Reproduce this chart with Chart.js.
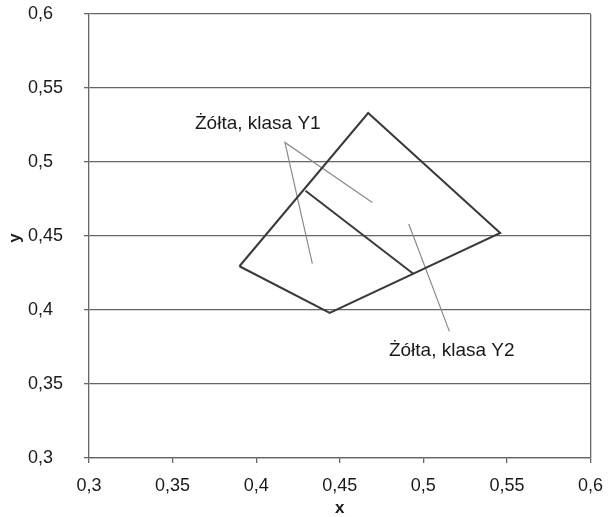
<!DOCTYPE html>
<html>
<head>
<meta charset="utf-8">
<script src="https://cdn.jsdelivr.net/npm/chart.js@4"></script>
<style>
  html, body { margin: 0; padding: 0; background: #fff; }
</style>
</head>
<body>
<canvas id="chart" width="615" height="517"></canvas>
<script>
// axis tick labels (Polish decimal comma)
const xTickLabels = ['0,3', '0,35', '0,4', '0,45', '0,5', '0,55', '0,6'];
const yTickLabels = ['0,3', '0,35', '0,4', '0,45', '0,5', '0,55', '0,6'];

// outline of the yellow region (closed quadrilateral)
const outlineX = [0.390, 0.444, 0.546, 0.467, 0.390];
const outlineY = [0.4295, 0.398, 0.452, 0.533, 0.4295];

// line splitting the region into Y1 / Y2
const dividerX = [0.4295, 0.494];
const dividerY = [0.4805, 0.4244];

// leader lines from the labels
const leaderY1X = [0.4336, 0.4172, 0.4695];
const leaderY1Y = [0.4313, 0.5131, 0.4726];
const leaderY2X = [0.4913, 0.5156];
const leaderY2Y = [0.458, 0.3855];

// class labels and where they sit (data units)
const classLabels = ['Żółta, klasa Y1', 'Żółta, klasa Y2'];
const classLabelX = [0.401, 0.517];
const classLabelY = [0.5257, 0.3727];

const toPoints = (xs, ys) => xs.map((x, i) => ({ x: x, y: ys[i] }));

Chart.defaults.font.family = 'Arial, "Liberation Sans", sans-serif';
Chart.defaults.color = '#1a1a1a';

const gridColor = '#666';

const lineSet = (xs, ys, color, width) => ({
  data: toPoints(xs, ys),
  showLine: true,
  borderColor: color,
  borderWidth: width,
  pointRadius: 0,
  fill: false,
  tension: 0
});

const textPlugin = {
  id: 'texts',
  afterDatasetsDraw(chart) {
    const { ctx, scales: { x, y }, chartArea } = chart;
    ctx.save();
    ctx.fillStyle = '#1a1a1a';
    ctx.font = '19px Arial, "Liberation Sans", sans-serif';
    ctx.textAlign = 'center';
    ctx.textBaseline = 'middle';
    classLabels.forEach((t, i) => {
      ctx.fillText(t, x.getPixelForValue(classLabelX[i]), y.getPixelForValue(classLabelY[i]));
    });
    // y axis title
    ctx.font = 'bold 17px Arial, "Liberation Sans", sans-serif';
    ctx.translate(15, (chartArea.top + chartArea.bottom) / 2 + 2);
    ctx.rotate(-Math.PI / 2);
    ctx.fillText('y', 0, 0);
    ctx.restore();
  }
};

new Chart(document.getElementById('chart'), {
  type: 'scatter',
  data: {
    datasets: [
      lineSet(outlineX, outlineY, '#3a3a3a', 2),
      lineSet(dividerX, dividerY, '#3a3a3a', 2),
      lineSet(leaderY1X, leaderY1Y, '#8a8a8a', 1.2),
      lineSet(leaderY2X, leaderY2Y, '#8a8a8a', 1.2)
    ]
  },
  options: {
    responsive: false,
    animation: false,
    layout: { padding: { left: 28, right: 14, top: 12, bottom: 0 } },
    plugins: {
      legend: { display: false },
      tooltip: { enabled: false }
    },
    scales: {
      x: {
        type: 'linear',
        min: 0.3,
        max: 0.6,
        afterFit: s => { s.height = 59; },
        border: { color: gridColor, width: 1.3 },
        grid: {
          color: c => (c.tick && Math.abs(c.tick.value - 0.6) < 1e-6) ? gridColor : 'rgba(0,0,0,0)',
          tickColor: gridColor,
          tickLength: 5,
          lineWidth: 1.3
        },
        ticks: {
          stepSize: 0.05,
          maxRotation: 0,
          minRotation: 0,
          padding: 12,
          font: { size: 18 },
          callback: (v, i) => xTickLabels[i]
        },
        title: {
          display: true,
          text: 'x',
          font: { size: 17, weight: 'bold', lineHeight: 1 },
          padding: 0
        }
      },
      y: {
        type: 'linear',
        min: 0.3,
        max: 0.6,
        afterFit: s => { s.width = 61; },
        border: { color: gridColor, width: 1.3 },
        grid: {
          color: gridColor,
          tickLength: 5,
          lineWidth: 1.3
        },
        ticks: {
          stepSize: 0.05,
          crossAlign: 'far',
          font: { size: 18 },
          callback: (v, i) => yTickLabels[i]
        }
      }
    }
  },
  plugins: [textPlugin]
});
</script>
</body>
</html>
